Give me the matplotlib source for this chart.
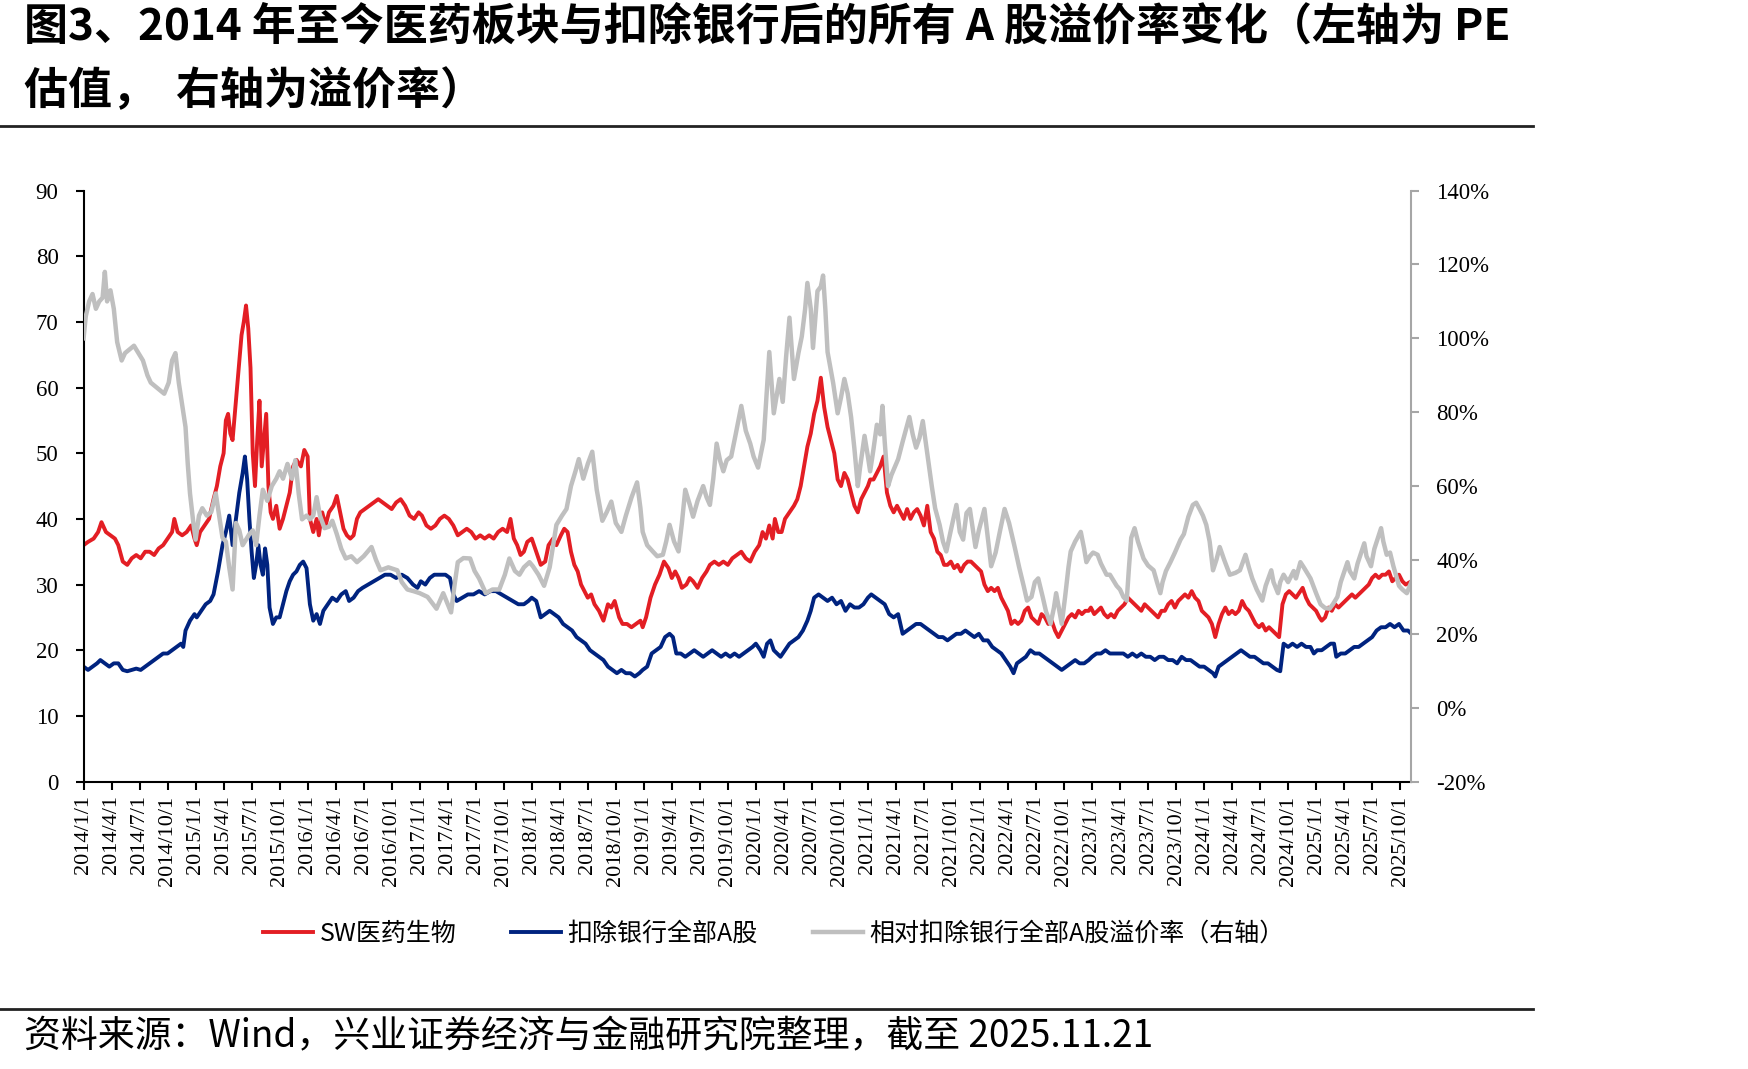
import matplotlib
matplotlib.use('Agg')
import matplotlib.pyplot as plt
from matplotlib.lines import Line2D

plt.rcParams['font.family'] = ['Noto Sans CJK SC', 'DejaVu Sans']

# ---------------- data (decimal year, value) ----------------
red_t = [2014.00,2014.04,2014.09,2014.13,2014.16,2014.20,2014.24,2014.28,2014.31,2014.35,2014.39,2014.43,2014.47,2014.51,2014.55,2014.59,2014.63,2014.67,2014.71,2014.75,
         2014.79,2014.81,2014.84,2014.88,2014.92,2014.96,2014.99,2015.01,2015.04,2015.08,2015.12,2015.16,2015.19,2015.22,2015.25,2015.27,2015.29,2015.31,2015.33,2015.35,
         2015.37,2015.39,2015.41,2015.43,2015.45,2015.47,2015.49,2015.51,2015.53,2015.55,2015.57,2015.59,2015.61,2015.63,2015.65,2015.67,2015.69,2015.72,2015.75,2015.78,
         2015.81,2015.84,2015.87,2015.90,2015.94,2015.97,2016.00,2016.02,2016.05,2016.08,2016.10,2016.13,2016.16,2016.19,2016.23,2016.26,2016.29,2016.32,2016.35,2016.38,
         2016.41,2016.44,2016.47,2016.51,2016.55,2016.59,2016.63,2016.67,2016.71,2016.75,2016.79,2016.83,2016.87,2016.91,2016.95,2016.99,2017.02,2017.06,2017.10,2017.14,
         2017.18,2017.22,2017.26,2017.30,2017.34,2017.38,2017.42,2017.46,2017.50,2017.54,2017.58,2017.62,2017.66,2017.70,2017.74,2017.78,2017.81,2017.84,2017.87,2017.90,
         2017.93,2017.96,2018.00,2018.04,2018.08,2018.12,2018.15,2018.19,2018.22,2018.26,2018.29,2018.32,2018.35,2018.38,2018.41,2018.44,2018.47,2018.50,2018.53,2018.56,
         2018.60,2018.64,2018.68,2018.71,2018.74,2018.78,2018.81,2018.85,2018.89,2018.93,2018.97,2018.99,2019.02,2019.06,2019.10,2019.14,2019.18,2019.22,2019.25,2019.28,
         2019.31,2019.34,2019.38,2019.41,2019.44,2019.48,2019.52,2019.56,2019.59,2019.63,2019.67,2019.71,2019.75,2019.79,2019.83,2019.87,2019.91,2019.95,2019.99,2020.03,
         2020.06,2020.09,2020.12,2020.15,2020.17,2020.20,2020.23,2020.26,2020.30,2020.34,2020.37,2020.40,2020.43,2020.46,2020.49,2020.52,2020.55,2020.58,2020.61,2020.64,
         2020.67,2020.70,2020.73,2020.76,2020.79,2020.82,2020.85,2020.88,2020.91,2020.94,2020.97,2021.00,2021.02,2021.05,2021.08,2021.11,2021.14,2021.17,2021.20,2021.23,
         2021.26,2021.29,2021.32,2021.35,2021.38,2021.41,2021.44,2021.47,2021.50,2021.53,2021.56,2021.59,2021.62,2021.65,2021.68,2021.71,2021.74,2021.77,2021.80,2021.83,
         2021.86,2021.89,2021.92,2021.95,2021.98,2022.01,2022.04,2022.07,2022.10,2022.13,2022.16,2022.19,2022.22,2022.25,2022.28,2022.31,2022.34,2022.37,2022.40,2022.43,
         2022.46,2022.49,2022.52,2022.55,2022.58,2022.61,2022.64,2022.67,2022.70,2022.73,2022.76,2022.79,2022.82,2022.85,2022.88,2022.91,2022.94,2022.97,2022.99,2023.02,
         2023.05,2023.08,2023.11,2023.14,2023.17,2023.20,2023.23,2023.26,2023.29,2023.32,2023.35,2023.38,2023.41,2023.44,2023.47,2023.50,2023.53,2023.56,2023.59,2023.62,
         2023.65,2023.68,2023.71,2023.74,2023.77,2023.80,2023.83,2023.86,2023.89,2023.92,2023.95,2023.98,2024.01,2024.04,2024.07,2024.10,2024.13,2024.16,2024.19,2024.22,
         2024.25,2024.28,2024.31,2024.34,2024.37,2024.40,2024.43,2024.46,2024.49,2024.52,2024.55,2024.58,2024.61,2024.64,2024.67,2024.70,2024.73,2024.76,2024.79,2024.82,
         2024.86,2024.88,2024.91,2024.94,2024.97,2025.00,2025.03,2025.05,2025.08,2025.11,2025.14,2025.17,2025.20,2025.23,2025.26,2025.29,2025.32,2025.35,2025.38,2025.41,
         2025.44,2025.47,2025.50,2025.53,2025.56,2025.59,2025.62,2025.65,2025.68,2025.71,2025.74,2025.77,2025.80,2025.85]
red_v = [36,36.5,37,38,39.5,38,37.5,37,36,33.5,33,34,34.5,34,35,35,34.5,35.5,36,37,
         38,40,38,37.5,38,39,37,36,38,39,40,43,45,48,50,55,56,53,52,56,
         60,64,68,70,72.5,69,63,50,45,52,58,48,52,56,45,41,40,42,38.5,40,
         42,44,48,49,48,50.5,49.5,40,38,40,37.5,41,39,41,42,43.5,41,38.5,37.5,37,
         37.5,40,41,41.5,42,42.5,43,42.5,42,41.5,42.5,43,42,40.5,40,41,40.5,39,38.5,39,
         40,40.5,40,39,37.5,38,38.5,38,37,37.5,37,37.5,37,38,38.5,38,40,37,36,34.5,
         35,36.5,37,35,33,33.5,36,37,36,37.5,38.5,38,35,33,32,30,29,28,28.5,27,
         26,24.5,27,26.5,27.5,25,24,24,23.5,24,24.5,23.5,25,28,30,31.5,33.5,32.5,31,32,
         31,29.5,30,31,30.5,29.5,31,32,33,33.5,33,33.5,33,34,34.5,35,34,33.5,35,36,
         38,37,39,37,40,38,38,40,41,42,43,45,48,51,53,56,58,61.5,57,54,
         52,50,46,45,47,46,44,42,41,43,44,45,46,46,47,48,49.5,44,42,41,
         42,41,40,41.5,40,41,41.5,40.5,39,42,38,37,35,34.5,33,33,33.5,32.5,33,32,
         33,33.5,33.5,33,32.5,32,30,29,29.5,29,29.5,28,27,26,24,24.5,24,24.5,26,26.5,
         25,24.5,24,25.5,25,24,24.5,23,22,23,24,25,25.5,25,26,25.5,26,26,26.5,25.5,
         26,26.5,25.5,25,25.5,25,26,26.5,27,28,27.5,27,26.5,26,27,26.5,26,25.5,25,26,
         26,27,27.5,26.5,27.5,28,28.5,28,29,28,27.5,26,25.5,25,24,22,24,25.5,26.5,25.5,
         26,25.5,26,27.5,26.5,26,25,24,23.5,24,23,23.5,23,22.5,22,27,28.5,29,28.5,28,
         29,29.5,28,27,26.5,26,25,24.5,25,26.5,26,27,26.5,27,27.5,28,28.5,28,28.5,29,
         29.5,30,31,31.5,31,31.5,31.5,32,30.5,31,31.5,30.5,30,30.5]

blue_t = [2014.00,2014.04,2014.08,2014.12,2014.15,2014.19,2014.23,2014.27,2014.31,2014.35,2014.39,2014.43,2014.47,2014.51,2014.55,2014.59,2014.63,2014.67,2014.71,2014.75,
          2014.79,2014.83,2014.87,2014.89,2014.91,2014.95,2014.99,2015.01,2015.05,2015.09,2015.13,2015.16,2015.20,2015.24,2015.27,2015.30,2015.33,2015.36,2015.39,2015.42,
          2015.44,2015.46,2015.48,2015.50,2015.52,2015.54,2015.56,2015.58,2015.60,2015.62,2015.64,2015.66,2015.69,2015.72,2015.75,2015.78,2015.81,2015.84,2015.87,2015.90,
          2015.93,2015.96,2015.99,2016.02,2016.05,2016.08,2016.11,2016.14,2016.18,2016.22,2016.26,2016.30,2016.34,2016.37,2016.41,2016.45,2016.49,2016.54,2016.59,2016.64,
          2016.69,2016.74,2016.79,2016.84,2016.89,2016.94,2016.98,2017.01,2017.05,2017.09,2017.13,2017.18,2017.23,2017.27,2017.30,2017.33,2017.38,2017.43,2017.48,2017.53,
          2017.58,2017.63,2017.68,2017.73,2017.78,2017.83,2017.88,2017.93,2017.97,2018.00,2018.04,2018.08,2018.12,2018.16,2018.20,2018.24,2018.28,2018.32,2018.36,2018.40,
          2018.44,2018.48,2018.52,2018.56,2018.60,2018.64,2018.68,2018.72,2018.76,2018.80,2018.84,2018.88,2018.92,2018.96,2018.99,2019.03,2019.07,2019.11,2019.15,2019.19,
          2019.23,2019.26,2019.29,2019.33,2019.37,2019.41,2019.45,2019.49,2019.53,2019.57,2019.61,2019.65,2019.69,2019.73,2019.77,2019.81,2019.85,2019.89,2019.93,2019.97,
          2020.00,2020.04,2020.07,2020.10,2020.13,2020.16,2020.19,2020.22,2020.26,2020.30,2020.34,2020.38,2020.42,2020.46,2020.49,2020.52,2020.56,2020.60,2020.64,2020.68,
          2020.72,2020.76,2020.80,2020.84,2020.88,2020.92,2020.96,2021.00,2021.03,2021.07,2021.11,2021.15,2021.19,2021.23,2021.27,2021.31,2021.35,2021.39,2021.43,2021.47,
          2021.51,2021.55,2021.59,2021.63,2021.67,2021.71,2021.75,2021.79,2021.83,2021.87,2021.91,2021.95,2021.99,2022.03,2022.07,2022.11,2022.15,2022.19,2022.23,2022.27,
          2022.30,2022.33,2022.37,2022.41,2022.45,2022.49,2022.53,2022.57,2022.61,2022.65,2022.69,2022.73,2022.77,2022.81,2022.85,2022.89,2022.93,2022.97,2023.00,2023.04,
          2023.08,2023.12,2023.16,2023.20,2023.24,2023.28,2023.32,2023.36,2023.40,2023.44,2023.48,2023.52,2023.56,2023.60,2023.64,2023.68,2023.72,2023.76,2023.80,2023.84,
          2023.88,2023.92,2023.96,2024.00,2024.04,2024.08,2024.10,2024.13,2024.17,2024.21,2024.25,2024.29,2024.33,2024.37,2024.41,2024.45,2024.49,2024.53,2024.57,2024.61,
          2024.65,2024.68,2024.71,2024.75,2024.79,2024.83,2024.87,2024.91,2024.95,2024.98,2025.01,2025.05,2025.09,2025.13,2025.16,2025.18,2025.22,2025.26,2025.30,2025.34,
          2025.38,2025.42,2025.46,2025.50,2025.54,2025.58,2025.62,2025.66,2025.70,2025.74,2025.78,2025.82,2025.85]
blue_v = [17.5,17,17.5,18,18.5,18,17.5,18,18,17,16.8,17,17.2,17,17.5,18,18.5,19,19.5,19.5,
          20,20.5,21,20.5,23,24.5,25.5,25,26,27,27.5,28.5,32,36,38,40.5,36,40,44,47,
          49.5,46,40,35,31,33,36,33,31.5,35.5,33,26.5,24,25,25,27,29,30.5,31.5,32,
          33,33.5,32.5,27,24.5,25.5,24,26,27,28,27.5,28.5,29,27.5,28,29,29.5,30,30.5,31,
          31.5,31.5,31,31.5,31,30,29.5,30.5,30,31,31.5,31.5,31.5,31,28.5,27.5,28,28.5,28.5,29,
          28.5,29,29,28.5,28,27.5,27,27,27.5,28,27.5,25,25.5,26,25.5,25,24,23.5,23,22,
          21.5,21,20,19.5,19,18.5,17.5,17,16.5,17,16.5,16.5,16,16.5,17,17.5,19.5,20,20.5,22,
          22.5,22,19.5,19.5,19,19.5,20,19.5,19,19.5,20,19.5,19,19.5,19,19.5,19,19.5,20,20.5,
          21,20,19,21,21.5,20,19.5,19,20,21,21.5,22,23,24.5,26,28,28.5,28,27.5,28,
          27,27.5,26,27,26.5,26.5,27,28,28.5,28,27.5,27,25.5,25,25.5,22.5,23,23.5,24,24,
          23.5,23,22.5,22,22,21.5,22,22.5,22.5,23,22.5,22,22.5,21.5,21.5,20.5,20,19.5,18.5,17.5,
          16.5,18,18.5,19,20,19.5,19.5,19,18.5,18,17.5,17,17.5,18,18.5,18,18,18.5,19,19.5,
          19.5,20,19.5,19.5,19.5,19.5,19,19.5,19,19.5,19,19,18.5,19,19,18.5,18.5,18,19,18.5,
          18.5,18,17.5,17.5,17,16.5,16,17.5,18,18.5,19,19.5,20,19.5,19,19,18.5,18,18,17.5,
          17,16.8,21,20.5,21,20.5,21,20.5,20.5,19.5,20,20,20.5,21,21,19,19.5,19.5,20,20.5,
          20.5,21,21.5,22,23,23.5,23.5,24,23.5,24,23,23,22.5]

grey_t = [2014.00,2014.02,2014.05,2014.08,2014.11,2014.14,2014.17,2014.19,2014.21,2014.24,2014.27,2014.30,2014.34,2014.37,2014.41,2014.45,2014.49,2014.53,2014.57,2014.60,
          2014.64,2014.68,2014.72,2014.76,2014.79,2014.82,2014.85,2014.88,2014.91,2014.93,2014.95,2014.98,2015.00,2015.03,2015.06,2015.10,2015.14,2015.18,2015.21,2015.24,
          2015.27,2015.30,2015.33,2015.36,2015.39,2015.42,2015.45,2015.48,2015.51,2015.54,2015.57,2015.60,2015.64,2015.68,2015.72,2015.75,2015.78,2015.82,2015.86,2015.89,
          2015.92,2015.95,2015.99,2016.02,2016.05,2016.08,2016.11,2016.15,2016.19,2016.22,2016.26,2016.30,2016.34,2016.39,2016.44,2016.50,2016.57,2016.61,2016.65,2016.72,
          2016.80,2016.84,2016.89,2016.95,2017.00,2017.07,2017.15,2017.21,2017.25,2017.28,2017.31,2017.34,2017.39,2017.45,2017.49,2017.53,2017.56,2017.59,2017.65,2017.71,
          2017.76,2017.80,2017.85,2017.89,2017.93,2017.98,2018.01,2018.06,2018.11,2018.16,2018.22,2018.27,2018.31,2018.35,2018.39,2018.42,2018.46,2018.50,2018.54,2018.58,
          2018.63,2018.67,2018.71,2018.75,2018.80,2018.84,2018.89,2018.94,2018.97,2018.99,2019.03,2019.08,2019.12,2019.17,2019.20,2019.23,2019.27,2019.31,2019.34,2019.37,
          2019.41,2019.44,2019.48,2019.53,2019.56,2019.59,2019.62,2019.65,2019.68,2019.71,2019.74,2019.78,2019.82,2019.87,2019.91,2019.95,2019.98,2020.02,2020.07,2020.12,
          2020.16,2020.21,2020.24,2020.27,2020.30,2020.34,2020.38,2020.41,2020.44,2020.46,2020.49,2020.51,2020.53,2020.55,2020.58,2020.60,2020.62,2020.64,2020.69,2020.73,
          2020.76,2020.79,2020.82,2020.85,2020.88,2020.91,2020.93,2020.97,2021.00,2021.02,2021.05,2021.08,2021.11,2021.13,2021.15,2021.18,2021.21,2021.27,2021.31,2021.37,
          2021.40,2021.43,2021.46,2021.49,2021.52,2021.57,2021.60,2021.64,2021.67,2021.70,2021.74,2021.79,2021.82,2021.85,2021.88,2021.91,2021.96,2021.99,2022.04,2022.07,
          2022.10,2022.14,2022.18,2022.22,2022.26,2022.31,2022.35,2022.39,2022.42,2022.46,2022.49,2022.52,2022.56,2022.59,2022.63,2022.66,2022.68,2022.71,2022.73,2022.76,
          2022.79,2022.81,2022.85,2022.90,2022.93,2022.95,2022.98,2023.01,2023.05,2023.08,2023.13,2023.16,2023.22,2023.25,2023.28,2023.31,2023.33,2023.35,2023.38,2023.41,
          2023.46,2023.50,2023.55,2023.58,2023.61,2023.63,2023.66,2023.70,2023.74,2023.79,2023.82,2023.86,2023.90,2023.93,2023.96,2023.99,2024.02,2024.05,2024.08,2024.11,
          2024.14,2024.18,2024.23,2024.28,2024.32,2024.37,2024.40,2024.43,2024.47,2024.52,2024.55,2024.60,2024.62,2024.66,2024.68,2024.71,2024.75,2024.80,2024.82,2024.86,
          2024.89,2024.95,2025.00,2025.04,2025.08,2025.12,2025.15,2025.19,2025.22,2025.28,2025.30,2025.34,2025.37,2025.43,2025.45,2025.49,2025.52,2025.58,2025.60,2025.63,
          2025.66,2025.69,2025.74,2025.77,2025.81,2025.85]
grey_v = [100,106,110,112,108,110,111,118,110,113,108,99,94,96,97,98,96,94,90,88,
          87,86,85,88,94,96,88,82,76,66,58,50,45.5,52,54,52,53,58,52,46,
          45,38,32,50,48,44,45.5,47,48,44,52,59,56,60,62,64,62,66,62,67,
          58,51,52,51,52,57,52,48.6,49,50.6,47,43,40.4,41,39.4,41,43.5,40,37.2,38,
          37.2,34,32,31.5,31,30,26.8,31,28,25.8,33,39.4,40.5,40.4,37,35,33,31,32,32,
          36,40.4,37,36,38,39.4,38.3,36,33,38,49.5,52,53.8,60,64,67.3,62,66,69.3,59,
          50.6,53,55.8,50,47.6,52,56.9,61,54,47.6,44,42.3,41,41.4,45,49.5,45,42.3,50,59,
          55,51.7,56,60,57,54.9,62,71.5,67,64,67,68,74,81.7,75,71.5,68,65,72.5,96.3,
          79.7,89,82.8,95,105.6,89,96,100.5,108,115,108,97.4,105,112.8,114,117,108,96.3,87.9,79.7,
          84,89,85,78.7,70,60,65,73.6,68,64,70,76.6,74,81.7,72,60,63,67.3,72,78.7,
          74,70.4,73,77.6,71,60,54,49.5,45,42.3,48,54.9,47.6,45.5,52.7,53.8,43.5,48,53.8,46,
          38.3,42,48,53.8,50,43.5,38,33,29,30,34,35,30,26,22.7,27,31,26,22.7,30,
          38,42.3,45,47.6,43,39.4,41,42,41.4,39,36,36,33,32,30,29,38,46,48.6,45,
          40.4,38.5,37.2,34,31,34,37,39.4,42,45.5,47,51.7,54.9,55.5,53.8,52,49.5,45,37.2,40,
          43.5,40,36,36.5,37.2,41.4,38,35,32,29,33,37.2,34,31,34,36,34,37,35,39.4,
          38,35,31,28,27,26.8,28,30,34,39.4,37,35,39,44.5,41,38.3,43,48.6,45,41.4,
          42,38.3,33,32,31,34]

# ---------------- axis text ----------------
left_ticks = [0, 10, 20, 30, 40, 50, 60, 70, 80, 90]
right_ticks = [-20, 0, 20, 40, 60, 80, 100, 120, 140]
tick_years = list(range(2014, 2026))
tick_months = [1, 4, 7, 10]
x_tick_pos = [y + (m - 1) / 12 for y in tick_years for m in tick_months]
x_tick_lab = [f'{y}/{m}/1' for y in tick_years for m in tick_months]

title1 = '图3、2014 年至今医药板块与扣除银行后的所有 A 股溢价率变化（左轴为 PE'
title2 = '估值，  右轴为溢价率）'
footer = '资料来源：Wind，兴业证券经济与金融研究院整理，截至 2025.11.21'
legend_labels = ['SW医药生物', '扣除银行全部A股', '相对扣除银行全部A股溢价率（右轴）']

RED = '#E31E24'
NAVY = '#00237F'
GREY = '#BFBFBF'
SERIF = 'Liberation Serif'

fig = plt.figure(figsize=(17.48, 10.69), dpi=100)
ax = fig.add_axes([0.0478, 0.2689, 0.7596, 0.5528])
ax2 = ax.twinx()

l1, = ax.plot(red_t, red_v, color=RED, lw=2.8, solid_joinstyle='round')
l2, = ax.plot(blue_t, blue_v, color=NAVY, lw=2.8, solid_joinstyle='round')
l3, = ax2.plot(grey_t, grey_v, color=GREY, lw=3.2, solid_joinstyle='round')

ax.set_xlim(2014.0, red_t[-1])
ax.set_ylim(0, 90)
ax2.set_ylim(-20, 140)

ax.set_yticks(left_ticks, labels=[str(v) for v in left_ticks], fontfamily=SERIF, fontsize=16.5)
ax2.set_yticks(right_ticks, labels=[f'{v}%' for v in right_ticks], fontfamily=SERIF, fontsize=16.5)
ax.set_xticks(x_tick_pos, labels=x_tick_lab, rotation=90, fontfamily=SERIF, fontsize=16)

for s in ['top', 'right']:
    ax.spines[s].set_visible(False)
for s in ['top', 'left', 'bottom']:
    ax2.spines[s].set_visible(False)
ax.spines['left'].set_linewidth(1.5)
ax.spines['bottom'].set_linewidth(1.5)
ax2.spines['right'].set_color('#A6A6A6')
ax2.spines['right'].set_linewidth(1.5)

ax.tick_params(axis='y', direction='out', length=6, width=1.5, pad=12, colors='black')
ax.tick_params(axis='x', direction='out', length=6, width=1.5, pad=4)
ax2.tick_params(axis='y', direction='out', length=6, width=1.5, pad=12, color='#A6A6A6', labelcolor='black')

# titles
fig.text(0.0137, 0.9757, title1, fontsize=31.7, fontweight='bold', ha='left', va='center')
fig.text(0.0137, 0.9150, title2, fontsize=31.7, fontweight='bold', ha='left', va='center')
fig.add_artist(Line2D([0, 0.877], [0.8821, 0.8821], color='#222222', lw=2, transform=fig.transFigure))
fig.add_artist(Line2D([0, 0.877], [0.0561, 0.0561], color='#222222', lw=2, transform=fig.transFigure))
fig.text(0.0137, 0.0299, footer, fontsize=26.6, ha='left', va='center')

fig.legend([l1, l2, l3], legend_labels, loc='center', bbox_to_anchor=(0.4427, 0.1263),
           ncol=3, frameon=False, fontsize=18, handlelength=2.0, handletextpad=0.25,
           columnspacing=2.2)

fig.savefig('out.png', dpi=100)
